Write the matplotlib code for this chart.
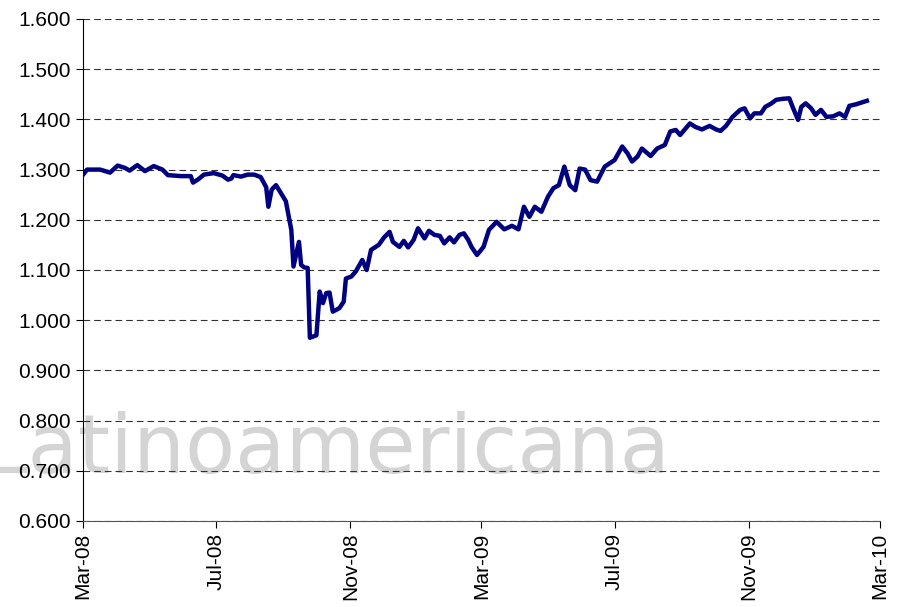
import pandas as pd
import matplotlib
matplotlib.use("Agg")
import matplotlib.pyplot as plt
import matplotlib.dates as mdates

dates = [
    "2008-03-01", "2008-03-05", "2008-03-17", "2008-03-26", "2008-04-02", "2008-04-09",
    "2008-04-13", "2008-04-20", "2008-04-27", "2008-05-05", "2008-05-13", "2008-05-18",
    "2008-05-30", "2008-06-08", "2008-06-10", "2008-06-15", "2008-06-20", "2008-06-29",
    "2008-07-07", "2008-07-12", "2008-07-15", "2008-07-17", "2008-07-24", "2008-07-30",
    "2008-08-05", "2008-08-11", "2008-08-16", "2008-08-18", "2008-08-21", "2008-08-25",
    "2008-08-29", "2008-09-03", "2008-09-08", "2008-09-10", "2008-09-15", "2008-09-17",
    "2008-09-20", "2008-09-23", "2008-09-25", "2008-10-01", "2008-10-04", "2008-10-07",
    "2008-10-10", "2008-10-13", "2008-10-16", "2008-10-22", "2008-10-26", "2008-10-28",
    "2008-11-02", "2008-11-06", "2008-11-12", "2008-11-16", "2008-11-20", "2008-11-27",
    "2008-12-02", "2008-12-07", "2008-12-10", "2008-12-16", "2008-12-20", "2008-12-24",
    "2008-12-29", "2009-01-02", "2009-01-08", "2009-01-12", "2009-01-17", "2009-01-22",
    "2009-01-26", "2009-01-31", "2009-02-04", "2009-02-09", "2009-02-13", "2009-02-17",
    "2009-02-20", "2009-02-25", "2009-03-03", "2009-03-08", "2009-03-15", "2009-03-22",
    "2009-03-29", "2009-04-04", "2009-04-09", "2009-04-14", "2009-04-19", "2009-04-25",
    "2009-05-01", "2009-05-06", "2009-05-11", "2009-05-16", "2009-05-21", "2009-05-26",
    "2009-05-30", "2009-06-04", "2009-06-09", "2009-06-15", "2009-06-22", "2009-07-01",
    "2009-07-08", "2009-07-13", "2009-07-17", "2009-07-22", "2009-07-26", "2009-08-03",
    "2009-08-09", "2009-08-16", "2009-08-21", "2009-08-26", "2009-08-30", "2009-09-08",
    "2009-09-13", "2009-09-19", "2009-09-26", "2009-10-02", "2009-10-06", "2009-10-11",
    "2009-10-17", "2009-10-24", "2009-10-28", "2009-11-02", "2009-11-06", "2009-11-12",
    "2009-11-16", "2009-11-21", "2009-11-26", "2009-12-02", "2009-12-08", "2009-12-11",
    "2009-12-16", "2009-12-19", "2009-12-23", "2009-12-28", "2010-01-01", "2010-01-06",
    "2010-01-11", "2010-01-17", "2010-01-23", "2010-01-28", "2010-02-01", "2010-02-07",
    "2010-02-14", "2010-02-17",
]
values = [
    1.289, 1.300, 1.300, 1.294, 1.308, 1.303,
    1.298, 1.309, 1.297, 1.307, 1.300, 1.289,
    1.287, 1.287, 1.274, 1.281, 1.290, 1.293,
    1.288, 1.280, 1.282, 1.289, 1.286, 1.290,
    1.290, 1.285, 1.265, 1.226, 1.260, 1.269,
    1.255, 1.237, 1.180, 1.107, 1.156, 1.110,
    1.105, 1.104, 0.965, 0.970, 1.057, 1.034,
    1.054, 1.055, 1.017, 1.024, 1.037, 1.083,
    1.087, 1.097, 1.120, 1.100, 1.140, 1.150,
    1.165, 1.176, 1.156, 1.146, 1.158, 1.145,
    1.160, 1.183, 1.163, 1.178, 1.170, 1.168,
    1.153, 1.165, 1.155, 1.170, 1.173, 1.160,
    1.146, 1.130, 1.146, 1.180, 1.196, 1.181,
    1.188, 1.181, 1.226, 1.206, 1.226, 1.216,
    1.246, 1.263, 1.269, 1.306, 1.269, 1.259,
    1.302, 1.300, 1.279, 1.276, 1.306, 1.319,
    1.346, 1.332, 1.316, 1.326, 1.342, 1.327,
    1.342, 1.349, 1.376, 1.379, 1.369, 1.392,
    1.385, 1.380, 1.387, 1.380, 1.377, 1.387,
    1.405, 1.419, 1.422, 1.402, 1.412, 1.412,
    1.425, 1.431, 1.439, 1.441, 1.442, 1.425,
    1.399, 1.425, 1.432, 1.422, 1.409, 1.419,
    1.405, 1.406, 1.412, 1.405, 1.427, 1.430,
    1.435, 1.437,
]
y_ticks = [0.6, 0.7, 0.8, 0.9, 1.0, 1.1, 1.2, 1.3, 1.4, 1.5, 1.6]
x_start, x_end = "2008-03-01", "2010-03-01"
watermark = "Latinoamericana"

dates = pd.to_datetime(dates)

plt.rcParams['font.family'] = ['Liberation Sans', 'DejaVu Sans']

fig = plt.figure(figsize=(8.97, 6.07), dpi=100)
ax = fig.add_axes([0.0922, 0.1417, 0.981 - 0.0922, 0.9687 - 0.1417])

# watermark sits behind the axes (axes background is transparent)
fig.text(-0.020, 0.221, watermark, fontsize=59, color='#d4d4d4',
         family='DejaVu Sans', ha='left', va='baseline', zorder=-1)

ax.set_facecolor('none')
ax.plot(dates, values, color='#000080', linewidth=3.2, solid_joinstyle='round', zorder=3)

ax.set_ylim(0.6, 1.6)
ax.set_yticks(y_ticks)
ax.set_yticklabels([f"{v:.3f}" for v in y_ticks])
ax.set_xlim(pd.Timestamp(x_start), pd.Timestamp(x_end))
ax.xaxis.set_major_locator(mdates.MonthLocator(bymonth=[3, 7, 11]))
ax.xaxis.set_major_formatter(mdates.DateFormatter('%b-%y'))
plt.setp(ax.get_xticklabels(), rotation=90)

ax.yaxis.grid(True, color='#333333', linestyle=(0, (6, 3.6)), linewidth=0.8)
ax.set_axisbelow(True)
ax.tick_params(axis='both', labelsize=15, length=5, width=0.8, direction='out', colors='black')

for side in ['top', 'right']:
    ax.spines[side].set_visible(False)
ax.spines['left'].set_color('black')
ax.spines['bottom'].set_color('#555555')

plt.savefig('out.png', dpi=100)
